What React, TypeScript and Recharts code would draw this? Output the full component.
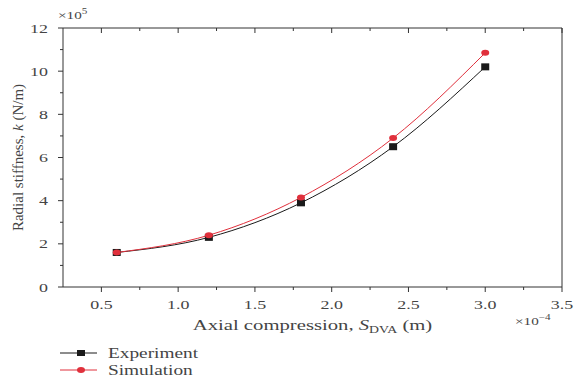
import { LineChart, Line, XAxis, YAxis, Legend, Label } from 'recharts'

const compression = [0.6, 1.2, 1.8, 2.4, 3.0]
const experiment = [1.6, 2.3, 3.9, 6.5, 10.2]
const simulation = [1.6, 2.4, 4.15, 6.9, 10.85]

const xTicks = [0.5, 0.75, 1.0, 1.25, 1.5, 1.75, 2.0, 2.25, 2.5, 2.75, 3.0, 3.25, 3.5]
const yTicks = [0, 1, 2, 3, 4, 5, 6, 7, 8, 9, 10, 11, 12]

const data = compression.map((x, i) => ({ x, exp: experiment[i], sim: simulation[i] }))

const FONT = '"Liberation Serif", "DejaVu Serif", serif'
const AXIS = '#333'
const TEXT = '#444'
const EXP_COLOR = '#1a1a1a'
const SIM_COLOR = '#e0303c'
// the reference is stretched sideways, so horizontal text gets widened
const STRETCH = 1.38

const isMajorX = (v: number) => Math.abs(v * 2 - Math.round(v * 2)) < 1e-6
const isMajorY = (v: number) => v % 2 === 0

function WideText({ x, y, anchor = 'start', size, children }: any) {
  return (
    <text
      transform={`translate(${x},${y}) scale(${STRETCH},1)`}
      x={0}
      y={0}
      textAnchor={anchor}
      fontSize={size}
      fill={TEXT}
      fontFamily={FONT}
    >
      {children}
    </text>
  )
}

function BottomTick({ x, y, payload }: any) {
  const major = isMajorX(payload.value)
  return (
    <g>
      <line x1={x} y1={y} x2={x} y2={y + (major ? 5 : 3)} stroke={AXIS} />
      {major && (
        <WideText x={x} y={y + 22} anchor="middle" size={13}>
          {payload.value.toFixed(1)}
        </WideText>
      )}
    </g>
  )
}

function TopTick({ x, y, payload }: any) {
  const major = isMajorX(payload.value)
  return <line x1={x} y1={y} x2={x} y2={y + (major ? 5 : 3)} stroke={AXIS} />
}

function LeftTick({ x, y, payload }: any) {
  const major = isMajorY(payload.value)
  return (
    <g>
      <line x1={x} y1={y} x2={x - (major ? 5 : 3)} y2={y} stroke={AXIS} />
      {major && (
        <WideText x={x - 15} y={y + 4.5} anchor="end" size={13}>
          {payload.value}
        </WideText>
      )}
    </g>
  )
}

function RightTick({ x, y, payload }: any) {
  const major = isMajorY(payload.value)
  return <line x1={x} y1={y} x2={x - (major ? 5 : 3)} y2={y} stroke={AXIS} />
}

function SquareDot({ cx, cy }: any) {
  return <rect x={cx - 4} y={cy - 3.5} width={8} height={7} fill={EXP_COLOR} />
}

function RoundDot({ cx, cy }: any) {
  return <ellipse cx={cx} cy={cy} rx={4} ry={3} fill={SIM_COLOR} />
}

function LegendBox() {
  const rows = [
    { name: 'Experiment', color: EXP_COLOR, square: true },
    { name: 'Simulation', color: SIM_COLOR, square: false },
  ]
  return (
    <svg width={160} height={40}>
      {rows.map((r, i) => {
        const cy = 8 + i * 17
        return (
          <g key={r.name}>
            <line x1={0} y1={cy} x2={37} y2={cy} stroke={r.color} strokeWidth={1} />
            {r.square ? (
              <rect x={17} y={cy - 3} width={8} height={6} fill={r.color} />
            ) : (
              <ellipse cx={21} cy={cy} rx={4} ry={3} fill={r.color} />
            )}
            <WideText x={48} y={cy + 5} size={14}>
              {r.name}
            </WideText>
          </g>
        )
      })}
    </svg>
  )
}

export default function App() {
  return (
    <div style={{ position: 'absolute', left: 0, top: 0 }}>
      <LineChart width={575} height={379} data={data} margin={{ top: 0, right: 0, bottom: 0, left: 0 }}>
        <XAxis
          xAxisId="bottom"
          dataKey="x"
          type="number"
          domain={[0.25, 3.5]}
          ticks={xTicks}
          interval={0}
          tickSize={0}
          tickMargin={0}
          tick={<BottomTick />}
          axisLine={{ stroke: AXIS }}
          tickLine={false}
          height={92}
        >
          <Label
            content={({ viewBox }: any) => (
              <WideText x={viewBox.x + viewBox.width / 2} y={viewBox.y + 43} anchor="middle" size={15}>
                Axial compression, <tspan fontStyle="italic">S</tspan>
                <tspan fontSize={10} dy={3}>DVA</tspan>
                <tspan dy={-3}> (m)</tspan>
              </WideText>
            )}
          />
          <Label
            content={({ viewBox }: any) => (
              <WideText x={viewBox.x + viewBox.width - 47} y={viewBox.y + 38} size={11}>
                ×10<tspan fontSize={8} dy={-5}>−4</tspan>
              </WideText>
            )}
          />
        </XAxis>
        <XAxis
          xAxisId="top"
          dataKey="x"
          type="number"
          orientation="top"
          domain={[0.25, 3.5]}
          ticks={xTicks}
          interval={0}
          tickSize={0}
          tickMargin={0}
          tick={<TopTick />}
          axisLine={{ stroke: AXIS }}
          tickLine={false}
          height={28}
        />
        <YAxis
          yAxisId="left"
          type="number"
          domain={[0, 12]}
          ticks={yTicks}
          interval={0}
          tickSize={0}
          tickMargin={0}
          tick={<LeftTick />}
          axisLine={{ stroke: AXIS }}
          tickLine={false}
          width={63}
        >
          <Label
            content={({ viewBox }: any) => {
              const cx = viewBox.x + 18
              const cy = viewBox.y + viewBox.height / 2
              return (
                <text
                  x={cx}
                  y={cy}
                  transform={`rotate(-90 ${cx} ${cy})`}
                  textAnchor="middle"
                  dominantBaseline="central"
                  fontSize={15}
                  fill={TEXT}
                  fontFamily={FONT}
                >
                  Radial stiffness, <tspan fontStyle="italic">k</tspan> (N/m)
                </text>
              )
            }}
          />
          <Label
            content={({ viewBox }: any) => (
              <WideText x={viewBox.x + viewBox.width - 5} y={viewBox.y - 9} size={11}>
                ×10<tspan fontSize={8} dy={-5}>5</tspan>
              </WideText>
            )}
          />
        </YAxis>
        <YAxis
          yAxisId="right"
          type="number"
          orientation="right"
          domain={[0, 12]}
          ticks={yTicks}
          interval={0}
          tickSize={0}
          tickMargin={0}
          tick={<RightTick />}
          axisLine={{ stroke: AXIS }}
          tickLine={false}
          width={13}
        />
        <Legend
          layout="vertical"
          align="center"
          verticalAlign="middle"
          content={<LegendBox />}
          wrapperStyle={{ left: 60, top: 345, width: 160 }}
        />
        <Line
          xAxisId="bottom"
          yAxisId="left"
          type="monotone"
          dataKey="exp"
          name="Experiment"
          stroke={EXP_COLOR}
          strokeWidth={1}
          dot={<SquareDot />}
          isAnimationActive={false}
        />
        <Line
          xAxisId="bottom"
          yAxisId="left"
          type="monotone"
          dataKey="sim"
          name="Simulation"
          stroke={SIM_COLOR}
          strokeWidth={1}
          dot={<RoundDot />}
          isAnimationActive={false}
        />
      </LineChart>
    </div>
  )
}
